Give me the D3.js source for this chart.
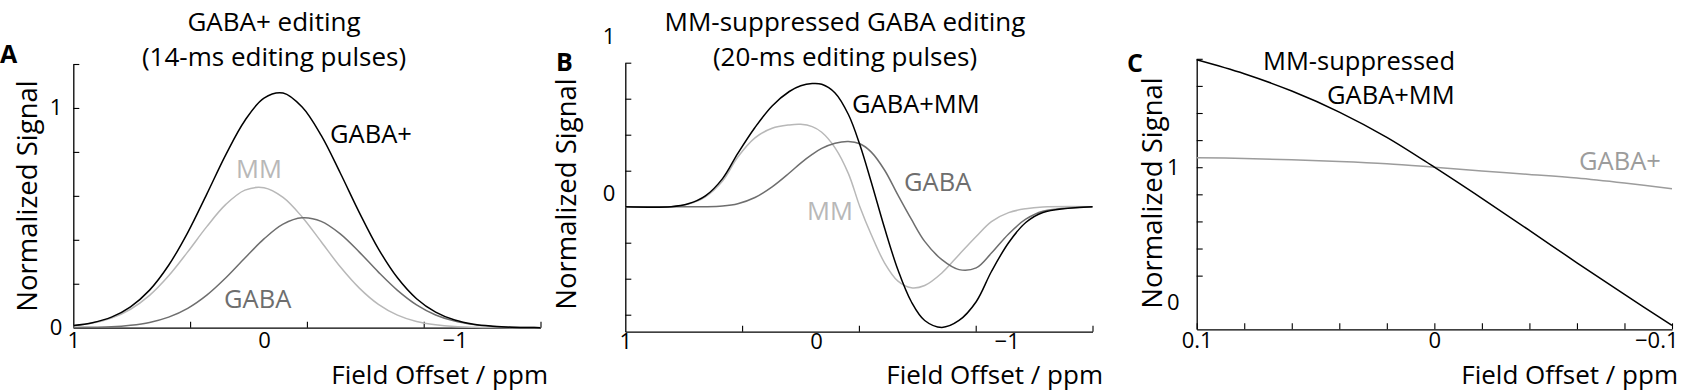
<!DOCTYPE html>
<html>
<head>
<meta charset="utf-8">
<script src="https://cdn.jsdelivr.net/npm/d3@7"></script>
<style>
  body { margin: 0; background: #fff; }
  svg { display: block; }
  text { font-family: 'Open Sans', sans-serif; }
</style>
</head>
<body>
<svg id="chart" width="1687" height="391"></svg>
<script>
// ---------- Panel A: GABA+ editing (14-ms editing pulses) ----------
const ppmA = [1.0, 0.9, 0.8, 0.7, 0.6, 0.5, 0.4, 0.3, 0.2, 0.1, 0.0, -0.1, -0.2, -0.3, -0.4, -0.5, -0.6, -0.7, -0.8, -0.9, -1.0, -1.1, -1.2, -1.3, -1.4, -1.45];
const gabaPlusA = [0.010, 0.023, 0.048, 0.095, 0.171, 0.284, 0.433, 0.608, 0.788, 0.943, 1.045, 1.068, 1.004, 0.875, 0.704, 0.524, 0.359, 0.227, 0.132, 0.071, 0.035, 0.016, 0.007, 0.002, 0.001, 0];
const mmA = [0.009, 0.021, 0.044, 0.084, 0.147, 0.236, 0.345, 0.460, 0.561, 0.626, 0.637, 0.593, 0.504, 0.391, 0.277, 0.180, 0.106, 0.057, 0.028, 0.013, 0.005, 0.002, 0.001, 0, 0, 0];
const gabaA = [0.001, 0.002, 0.004, 0.011, 0.024, 0.048, 0.088, 0.148, 0.227, 0.317, 0.404, 0.471, 0.500, 0.484, 0.427, 0.344, 0.253, 0.170, 0.104, 0.058, 0.030, 0.014, 0.006, 0.002, 0.001, 0];
const xTicksA = [0.3875, -0.225, -0.8375, -1.45];
const xLabelsA = [1, 0, -1];
const yTicksA = [0.2, 0.4, 0.6, 0.8, 1.0, 1.2];
const yLabelsA = [0, 1];

// ---------- Panel B: MM-suppressed GABA editing (20-ms editing pulses) ----------
const ppmB = [1.0, 0.76, 0.67, 0.58, 0.49, 0.41, 0.32, 0.23, 0.14, 0.08, 0.02, -0.03, -0.10, -0.17, -0.23, -0.29, -0.36, -0.43, -0.50, -0.57, -0.66, -0.75, -0.84, -0.92, -1.01, -1.10, -1.19, -1.45];
const gabaMmB = [0, 0, 0.02, 0.075, 0.195, 0.37, 0.55, 0.70, 0.80, 0.84, 0.855, 0.85, 0.79, 0.64, 0.43, 0.17, -0.15, -0.44, -0.66, -0.79, -0.838, -0.79, -0.66, -0.45, -0.25, -0.11, -0.04, 0];
const mmB = [0, 0, 0.018, 0.069, 0.179, 0.345, 0.478, 0.545, 0.568, 0.572, 0.556, 0.517, 0.409, 0.230, 0, -0.195, -0.391, -0.517, -0.563, -0.547, -0.460, -0.333, -0.207, -0.103, -0.041, -0.014, -0.002, 0];
const gabaB = [0, 0, 0, 0, 0.005, 0.021, 0.064, 0.138, 0.234, 0.303, 0.363, 0.405, 0.441, 0.453, 0.437, 0.379, 0.253, 0.080, -0.087, -0.241, -0.368, -0.437, -0.425, -0.322, -0.189, -0.087, -0.032, 0];
const xTicksB = [0.3875, -0.225, -0.8375, -1.45];
const xLabelsB = [1, 0, -1];
const yTicksB = [-0.75, -0.5, -0.25, 0.25, 0.5, 0.75, 1.0];
const yLabelsB = [1, 0];

// ---------- Panel C ----------
const ppmC = [0.1, 0.08, 0.06, 0.04, 0.02, 0, -0.02, -0.04, -0.06, -0.08, -0.1];
const mmSuppC = [1.793, 1.690, 1.562, 1.407, 1.220, 1.0, 0.770, 0.534, 0.295, 0.061, -0.167];
const gabaPlusC = [1.070, 1.065, 1.055, 1.043, 1.026, 1.0, 0.972, 0.947, 0.920, 0.883, 0.841];
const xTicksC = [0.1, 0.08, 0.06, 0.04, 0.02, 0, -0.02, -0.04, -0.06, -0.08, -0.1];
const xLabelsC = [0.1, 0, -0.1];
const yTicksC = [0.2, 0.4, 0.6, 0.8, 1.0, 1.2, 1.4, 1.6, 1.8];
const yLabelsC = [0, 1];

// ---------- styling / layout ----------
const BLACK = "#000", LIGHT = "#b8b8b8", DARK = "#6e6e6e", MID = "#9c9c9c";
const BIG = 25.5, XT = 26, YT = 27.5, TITLEF = 26, TICKF = 22, LETTERF = 25;
const svg = d3.select("#chart");
const fmt = d => d < 0 ? "\u2212" + Math.abs(d) : String(d);

function panel(cfg) {
  const x = d3.scaleLinear().domain(cfg.xDomain).range(cfg.xRange);
  const y = d3.scaleLinear().domain(cfg.yDomain).range(cfg.yRange);
  const g = svg.append("g");

  // tick marks (inward)
  const xa = g.append("g").attr("transform", `translate(0,${cfg.yRange[0]})`)
    .call(d3.axisBottom(x).tickValues(cfg.xTicks).tickSizeInner(-6).tickSizeOuter(0).tickFormat(""));
  const ya = g.append("g").attr("transform", `translate(${cfg.xRange[0]},0)`)
    .call(d3.axisLeft(y).tickValues(cfg.yTicks).tickSizeInner(-6).tickSizeOuter(0).tickFormat(""));
  [xa, ya].forEach(a => {
    a.select(".domain").attr("stroke", "#000").attr("stroke-width", 1.3);
    a.selectAll(".tick line").attr("stroke", "#000").attr("stroke-width", 1.1);
  });

  // tick labels
  const xl = g.append("g").attr("transform", `translate(0,${cfg.yRange[0]})`)
    .call(d3.axisBottom(x).tickValues(cfg.xLabels).tickSize(0).tickPadding(cfg.xPad).tickFormat(fmt));
  xl.select(".domain").remove();
  xl.selectAll("text").attr("font-size", TICKF).attr("font-family", "'Open Sans', sans-serif").attr("fill", "#000");
  if (cfg.lastXLabelEnd) {
    xl.selectAll("text").filter(d => d === cfg.xLabels[cfg.xLabels.length - 1])
      .attr("text-anchor", "end").attr("dx", cfg.lastXLabelEnd);
  }
  const yl = g.append("g").attr("transform", `translate(${cfg.xRange[0]},0)`)
    .call(d3.axisLeft(y).tickValues(cfg.yLabels).tickSize(0).tickPadding(cfg.yPad).tickFormat(fmt));
  yl.select(".domain").remove();
  yl.selectAll("text").attr("font-size", TICKF).attr("font-family", "'Open Sans', sans-serif").attr("fill", "#000");
  if (cfg.yLabelShift) {
    yl.selectAll(".tick text").attr("transform", (d, i) => `translate(0,${cfg.yLabelShift[i]})`);
  }

  // curves
  const line = d3.line().x(d => x(d[0])).y(d => y(d[1])).curve(d3.curveCatmullRom.alpha(0.5));
  cfg.series.forEach(s => {
    g.append("path").datum(cfg.xs.map((v, i) => [v, s.values[i]]))
      .attr("d", line).attr("fill", "none").attr("stroke", s.color).attr("stroke-width", 1.5);
  });
  cfg.seriesLabels.forEach(l => {
    g.append("text").attr("x", l.x).attr("y", l.y).attr("fill", l.color)
      .attr("font-size", BIG).text(l.text);
  });

  // axis titles
  g.append("text").attr("x", cfg.xTitle[0]).attr("y", cfg.xTitle[1]).attr("text-anchor", "end")
    .attr("font-size", XT).text("Field Offset / ppm");
  g.append("text").attr("transform", `translate(${cfg.yTitle[0]},${cfg.yTitle[1]}) rotate(-90)`)
    .attr("text-anchor", "middle").attr("font-size", YT).text("Normalized Signal");

  // panel letter + title
  g.append("text").attr("x", cfg.letter[1]).attr("y", cfg.letter[2])
    .attr("font-size", LETTERF).attr("font-weight", "bold").text(cfg.letter[0]);
  (cfg.title || []).forEach((t, i) => {
    g.append("text").attr("x", cfg.titleX).attr("y", cfg.titleY[i]).attr("text-anchor", "middle")
      .attr("font-size", TITLEF).text(t);
  });
}

panel({
  xDomain: [1, -1.45], xRange: [73.3, 540.5],
  yDomain: [0, 1.2], yRange: [327.7, 64],
  xTicks: xTicksA, yTicks: yTicksA, xLabels: xLabelsA, yLabels: yLabelsA,
  xPad: 5, yPad: 11,
  xs: ppmA,
  series: [
    { values: mmA, color: LIGHT },
    { values: gabaA, color: DARK },
    { values: gabaPlusA, color: BLACK }
  ],
  seriesLabels: [
    { text: "GABA+", x: 330, y: 143, color: BLACK },
    { text: "MM", x: 236, y: 178, color: LIGHT },
    { text: "GABA", x: 224, y: 308, color: DARK }
  ],
  xTitle: [548, 384], yTitle: [37, 196],
  letter: ["A", 0, 63],
  title: ["GABA+ editing", "(14-ms editing pulses)"], titleX: 274, titleY: [31, 66]
});

panel({
  xDomain: [1, -1.45], xRange: [625.3, 1092.5],
  yDomain: [-0.868, 1], yRange: [331.7, 62.7],
  xTicks: xTicksB, yTicks: yTicksB, xLabels: xLabelsB, yLabels: yLabelsB,
  xPad: 2, yPad: 10, yLabelShift: [-26, -13],
  xs: ppmB,
  series: [
    { values: mmB, color: LIGHT },
    { values: gabaB, color: DARK },
    { values: gabaMmB, color: BLACK }
  ],
  seriesLabels: [
    { text: "GABA+MM", x: 852, y: 113, color: BLACK },
    { text: "GABA", x: 904, y: 191, color: DARK },
    { text: "MM", x: 807, y: 220, color: LIGHT }
  ],
  xTitle: [1103, 384], yTitle: [576, 194],
  letter: ["B", 556, 71],
  title: ["MM-suppressed GABA editing", "(20-ms editing pulses)"], titleX: 845, titleY: [31, 66]
});

panel({
  xDomain: [0.1, -0.1], xRange: [1196.7, 1672],
  yDomain: [-0.196, 1.8], yRange: [329.3, 58.8],
  xTicks: xTicksC, yTicks: yTicksC, xLabels: xLabelsC, yLabels: yLabelsC,
  xPad: 3, yPad: 17, lastXLabelEnd: 6,
  xs: ppmC,
  series: [
    { values: gabaPlusC, color: MID },
    { values: mmSuppC, color: BLACK }
  ],
  seriesLabels: [
    { text: "MM-suppressed", x: 1263, y: 70, color: BLACK },
    { text: "GABA+MM", x: 1327, y: 104, color: BLACK },
    { text: "GABA+", x: 1579, y: 170, color: MID }
  ],
  xTitle: [1678, 384], yTitle: [1162, 193],
  letter: ["C", 1127, 72]
});
</script>
</body>
</html>
